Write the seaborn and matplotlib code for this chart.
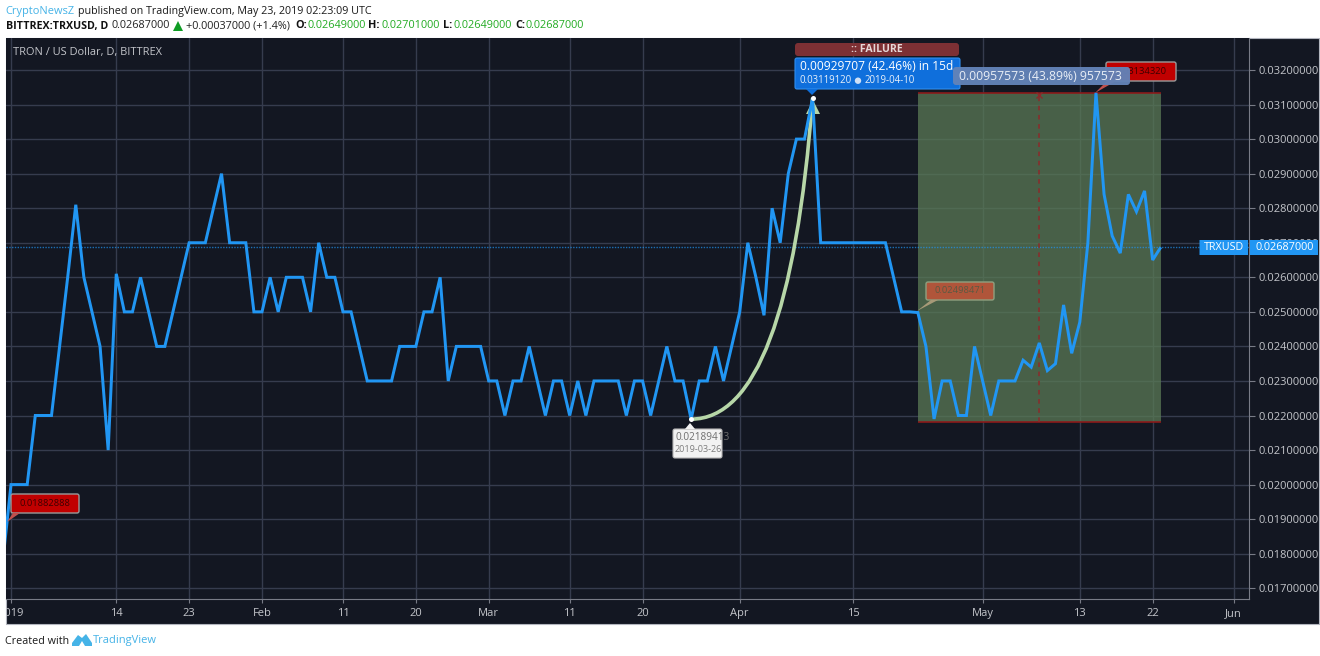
import pandas as pd
import matplotlib
matplotlib.use("Agg")
import matplotlib.pyplot as plt
import matplotlib.dates as mdates
from matplotlib.patches import FancyBboxPatch, Polygon, Rectangle, Circle, PathPatch
from matplotlib.path import Path
from matplotlib.transforms import Affine2D, Bbox
from matplotlib.ticker import FixedLocator, FixedFormatter, FuncFormatter
import seaborn as sns

# ---- data -----------------------------------------------------------------
dec_2018 = [0.0178]
jan = [.020, .020, .020, .022, .022, .022, .024, .026, .0281, .026, .025, .024, .021, .0261, .025, .025,
       .026, .025, .024, .024, .025, .026, .027, .027, .027, .028, .029, .027, .027, .027, .025]
feb = [.025, .026, .025, .026, .026, .026, .025, .027, .026, .026, .025, .025, .024, .023, .023, .023,
       .023, .024, .024, .024, .025, .025, .026, .023, .024, .024, .024, .024]
mar = [.023, .023, .022, .023, .023, .024, .023, .022, .023, .023, .022, .023, .022, .023, .023, .023,
       .023, .022, .023, .023, .022, .023, .024, .023, .023, .02189, .023, .023, .024, .023, .024]
apr = [.025, .027, .026, .0249, .028, .027, .029, .030, .030, .03119, .027, .027, .027, .027, .027, .027,
       .027, .027, .027, .026, .025, .025, .02498, .024, .0219, .023, .023, .022, .022, .024]
may = [.023, .022, .023, .023, .023, .0236, .0234, .0241, .0233, .0235, .0252, .0238, .0247, .0270,
       .03134, .0284, .0272, .0267, .0284, .0279, .0285, .0265, .02687]
start_date = "2018-12-31"

x_tick_dates = ["2019-01-01", "2019-01-14", "2019-01-23", "2019-02-01", "2019-02-11", "2019-02-20",
                "2019-03-01", "2019-03-11", "2019-03-20", "2019-04-01", "2019-04-15", "2019-05-01",
                "2019-05-13", "2019-05-22", "2019-06-01"]
x_tick_labels = ["2019", "14", "23", "Feb", "11", "20", "Mar", "11", "20", "Apr", "15", "May", "13", "22", "Jun"]
y_ticks = [.017, .018, .019, .020, .021, .022, .023, .024, .025, .026, .027, .028, .029, .030, .031, .032]

last_price = 0.02687
box_start, box_end, box_mid = "2019-04-23", "2019-05-23", "2019-05-08"
box_low, box_high = 0.02182, 0.03134
curve_dates = ["2019-03-26", "2019-04-07", "2019-04-10"]
curve_prices = [0.02189413, 0.02189413, 0.03119120]

BG, GRID, AXIS = "#131722", "#363c4e", "#787b86"
BLUE, LABEL = "#2196f3", "#c3c5ca"
FONT = "Open Sans"

sns.set_theme(style="dark", rc={"axes.facecolor": BG, "figure.facecolor": "white"})
plt.rcParams["font.family"] = [FONT, "DejaVu Sans"]

fig = plt.figure(figsize=(13.2, 6.56), dpi=100)
W, H = 1320, 656
px = Affine2D().scale(1, -1).translate(0, H)   # pixel coordinates, y down


def T(x, y, s, size=8, color="black", ha="left", va="center", weight="normal", z=10, **kw):
    return fig.text(x, y, s, transform=px, fontsize=size * 0.72, color=color, ha=ha, va=va,
                    fontweight=weight, zorder=z, **kw)


def box(x0, y0, x1, y1, fc, ec="none", lw=0.0, r=2, alpha=None, z=8):
    p = FancyBboxPatch((x0, y0), x1 - x0, y1 - y0, boxstyle=f"round,pad=0,rounding_size={r}",
                       fc=fc, ec=ec, lw=lw, alpha=alpha, transform=px, zorder=z)
    fig.add_artist(p)
    return p


def poly(pts, fc, ec="none", lw=0.0, alpha=None, z=8):
    p = Polygon(pts, closed=True, fc=fc, ec=ec, lw=lw, alpha=alpha, transform=px, zorder=z)
    fig.add_artist(p)
    return p


# dark chart panel behind the plot and its two axis bands
panel = Rectangle((5.5, 38), 1313, 586, fc=BG, ec="#b2b5be", lw=0.8, transform=px, zorder=-1)
fig.add_artist(panel)

# main pane: x 6..1249 px, y 38..599 px
ax = fig.add_axes([6 / W, 1 - 599 / H, (1249 - 6) / W, (599 - 38) / H])
ax.set_axisbelow(True)

prices = dec_2018 + jan + feb + mar + apr + may
df = pd.DataFrame({"date": pd.date_range(start_date, periods=len(prices)), "price": prices})

sns.lineplot(data=df, x="date", y="price", ax=ax, color=BLUE, linewidth=2.15, zorder=4)
ax.lines[0].set_solid_joinstyle("miter")
ax.lines[0].set_solid_capstyle("butt")

d0 = mdates.date2num(pd.Timestamp("2019-01-01"))
ax.set_xlim(d0 - 0.618, d0 + 152.9)
ax.set_ylim(0.016689, 0.032926)
ax.set_xlabel("")
ax.set_ylabel("")

# axes furniture
ax.xaxis.set_major_locator(FixedLocator(mdates.date2num(pd.to_datetime(x_tick_dates))))
ax.xaxis.set_major_formatter(FixedFormatter(x_tick_labels))
ax.yaxis.tick_right()
ax.set_yticks(y_ticks)
ax.yaxis.set_major_formatter(FuncFormatter(lambda v, _: f"{v:.8f}"))
ax.grid(True, color=GRID, lw=1.0)
ax.tick_params(axis="x", length=3, width=0.8, color=AXIS, labelcolor=LABEL, labelsize=8.0, pad=3.5,
               bottom=True)
ax.tick_params(axis="y", length=4, width=0.8, color=AXIS, labelcolor=LABEL, labelsize=8.0, pad=3,
               right=True, left=False)
for s in ("left", "top"):
    ax.spines[s].set_visible(False)
for s in ("right", "bottom"):
    ax.spines[s].set_color(AXIS)
    ax.spines[s].set_linewidth(0.8)
    ax.spines[s].set_visible(True)

# clip the first date label at the panel's left edge, as in the picture
first = ax.get_xticklabels()[0]
first.set_clip_box(Bbox([[6, 0], [200, 100]]))
first.set_clip_on(True)

# last price line
ax.axhline(last_price, color=BLUE, lw=1.0, ls=(0, (1, 1)), alpha=0.7, zorder=3)

# long-position box
n0, n1, nm = [mdates.date2num(pd.Timestamp(d)) for d in (box_start, box_end, box_mid)]
ax.add_patch(Rectangle((n0, box_low), n1 - n0, box_high - box_low, fc="#5a7a55", ec="none",
                       alpha=0.75, zorder=2))
ax.hlines([box_low, box_high], n0, n1, color="#8b1a1a", lw=1.2, zorder=3)
ax.vlines(nm, box_low, box_high, color="#8b2a2a", lw=1.1, ls=(0, (3, 3)), zorder=3)
ax.plot([nm], [box_high - 0.00006], marker="x", ms=4, mew=1, color="#8b2a2a", zorder=3)

# curved projection from low to high, with its arrow head, under the price line
cx = mdates.date2num(pd.to_datetime(curve_dates))
ax.add_patch(PathPatch(Path(list(zip(cx, curve_prices)), [Path.MOVETO, Path.CURVE3, Path.CURVE3]),
                       fc="none", ec="#b7d7a8", lw=2.6, zorder=3.5))
ax.plot([cx[2]], [curve_prices[2] - 0.00026], marker="^", ms=10, color="#b7d7a8", mew=0, zorder=3.6)
ax.plot([cx[0], cx[2]], [curve_prices[0], curve_prices[2]], ls="", marker="o", ms=3.6,
        color="white", mew=0, zorder=6)

# ---- header ---------------------------------------------------------------
T(5, 11.5, "CryptoNewsZ", 11, "#45b3e7")
T(78, 11.5, "published on TradingView.com, May 23, 2019 02:23:09 UTC", 10.7, "#1a1a1a")
GREEN = "#22ab22"
T(6, 26, "BITTREX:TRXUSD, D", 10.6, "#111111", weight="bold")
T(112, 26, "0.02687000", 10.9, "#222222")
poly([(173, 31), (183, 31), (178, 21)], "#0f9d24")
T(186, 26, "+0.00037000 (+1.4%)", 10.9, "#222222")
for x_l, x_v, lab, val in [(295, 307, "O:", "0.02649000"), (368, 381, "H:", "0.02701000"),
                           (443, 453, "L:", "0.02649000"), (515, 526, "C:", "0.02687000")]:
    T(x_l, 26, lab, 10.9, "#111111", weight="bold")
    T(x_v, 26, val, 10.9, GREEN)
T(13, 52.5, "TRON / US Dollar, D, BITTREX", 11, "#c3c5ca")

# ---- right-hand price flags -------------------------------------------------
box(1199.5, 240, 1248, 255, BLUE, r=0)
T(1223.7, 247.5, "TRXUSD", 10.8, "white", ha="center", z=11)
box(1250, 240, 1318, 255, BLUE, r=0)
T(1256, 247.5, "0.02687000", 10.9, "white", z=11)

# ---- FAILURE and target labels ----------------------------------------------
box(795, 43, 959, 56, "#7d3034", r=3)
T(877, 49.5, ":: FAILURE", 10.5, "#e6d8d8", ha="center", weight="bold", z=11)
box(795, 58, 960, 89, "#0f6fdc", ec="#2f8ff0", lw=0.8, r=2)
poly([(806, 89), (818, 89), (812, 95)], "#0f6fdc")
T(800, 67, "0.00929707 (42.46%) in 15d", 12.0, "white", z=11)
T(800, 80.5, "0.03119120", 9.7, "#e7effa", z=11)
fig.add_artist(Circle((858, 80.7), 3.2, fc="#cfe0f6", ec="none", transform=px, zorder=11))
T(865, 80.5, "2019-04-10", 9.7, "#e7effa", z=11)

box(1106, 62, 1176, 81, "#c00000", ec="#9a9a9a", lw=1.0, r=2, z=8)
T(1141, 71.5, "0.03134320", 9.4, "#3c0000", ha="center", z=9)
poly([(1095, 93), (1106, 82), (1116, 81)], "#c0504d", z=8)
box(953, 67, 1130, 85, "#6383b8", r=3, alpha=0.96, z=9.5)
T(959, 76, "0.00957573 (43.89%) 957573", 12.2, "#e9eef6", z=11)

box(926, 282, 994, 300, "#b0553a", ec="#8fa07f", lw=1.0, r=2)
T(960, 290.5, "0.02498471", 9.4, "#5a5a42", ha="center", z=9)
poly([(917, 311), (931, 300), (938, 300)], "#a79a78")

box(673, 429, 722, 458, "#f2f2f2", ec="#b5b5b5", lw=0.8, r=2)
poly([(685, 429), (690, 423), (695, 429)], "#f2f2f2")
T(675, 438, "0.02189413", 10.0, "#6e6e6e", z=9)
T(675, 449.5, "2019-03-26", 9, "#7d7d7d", z=9)

box(11, 494, 79, 513, "#c00000", ec="#9a9a9a", lw=1.0, r=2)
T(45, 503, "0.01882888", 9.4, "#3c0000", ha="center", z=9)
poly([(7, 522), (13, 513), (20, 513)], "#c0504d")

# ---- footer -----------------------------------------------------------------
T(5, 641, "Created with", 10.8, "#1a1a1a")
poly([(72, 643), (78, 635), (82, 638), (86, 634), (92, 643), (92, 646), (72, 646)], "#45b3e7")
poly([(79, 646), (82, 641), (85, 646)], "white", z=9)
T(93, 641, "TradingView", 11.1, "#45b3e7")

fig.savefig("out.png", dpi=100, facecolor="white")
